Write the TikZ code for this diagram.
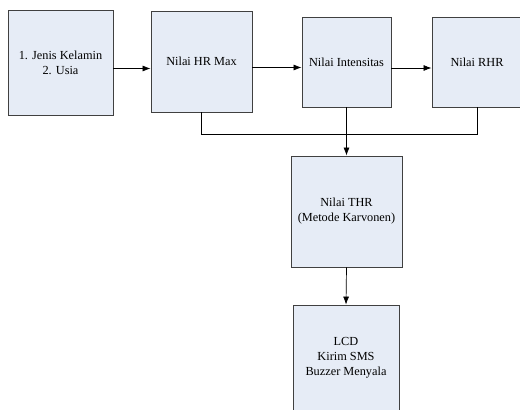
\documentclass[tikz,border=0pt]{standalone}
\usepackage{fontspec}
\setmainfont{Liberation Serif}
\usepackage{tikz}
\usetikzlibrary{shapes.geometric, arrows.meta}
\definecolor{boxfill}{RGB}{230,236,246}
\definecolor{boxline}{RGB}{64,64,64}
\tikzstyle{process} = [rectangle, fill = boxfill, draw = boxline, line width = 0.9pt, inner sep = 0pt, text centered, align = center, font = \fontsize{12.3}{15}\selectfont]
\tikzstyle{arrow} = [->,>={Latex[length=8pt,width=6pt]}, line width = 0.7pt]
\tikzstyle{line} = [line width = 0.7pt]

\begin{document}
\begin{tikzpicture}[x=1pt, y=-1pt]
\useasboundingbox (0,0) rectangle (520,410);
\clip (0,0) rectangle (520,410);
%kotak-kotak proses
\node[process, minimum width = 105pt, minimum height = 105pt](in1) at (60.5,62.5){1. Jenis Kelamin\\2. Usia};
\node[process, minimum width = 101pt, minimum height = 101pt](hrmax) at (201.5,61.5){Nilai HR Max};
\node[process, minimum width = 89pt, minimum height = 90pt](intens) at (346.5,62){Nilai Intensitas};
\node[process, minimum width = 90pt, minimum height = 90pt](rhr) at (477,62){Nilai RHR};
\node[process, minimum width = 111pt, minimum height = 111pt](thr) at (346.5,211.5){Nilai THR\\(Metode Karvonen)};
\node[process, minimum width = 106pt, minimum height = 106pt](out1) at (346,358){LCD\\Kirim SMS\\Buzzer Menyala};
\coordinate (bus) at (0,134);
%garis penghubung
\draw [arrow] ([yshift=-6pt]in1.east) -- ([yshift=-6pt]in1.east -| hrmax.west);
\draw [arrow] ([yshift=-6pt]hrmax.east) -- ([yshift=-6pt]hrmax.east -| intens.west);
\draw [arrow] ([yshift=-6pt]intens.east) -- ([yshift=-6pt]intens.east -| rhr.west);
\draw [line] (hrmax.south) -- (hrmax.south |- bus) -- (rhr.south |- bus) -- (rhr.south);
\draw [arrow] (intens.south) -- (thr.north);
\draw [arrow] (thr.south) -- (out1.north);
\end{tikzpicture}
\end{document}
